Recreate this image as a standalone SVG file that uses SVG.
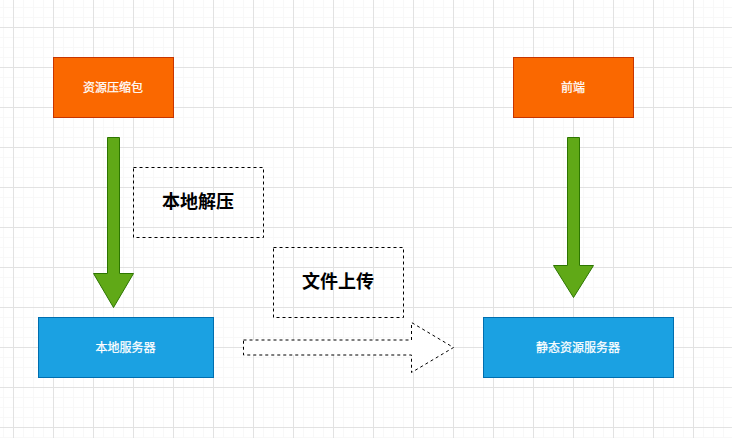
<svg xmlns="http://www.w3.org/2000/svg" width="732" height="438" viewBox="0 0 732 438">
<style>
text{font-family:"Liberation Sans","Noto Sans CJK SC",sans-serif;text-anchor:middle;dominant-baseline:central}
.n{font-size:12px;fill:#fff;stroke:#fff;stroke-width:.25px}
.l{font-size:18px;font-weight:bold;fill:#000}
.o{fill:#fa6800;stroke:#c73500}
.b{fill:#1ba1e2;stroke:#006eaf}
.g{fill:#60a917;stroke:#2d7600}
.d{fill:none;stroke:#000;stroke-dasharray:3 3}
</style>
<defs>
<pattern id="minor" x="3" y="7" width="10" height="10" patternUnits="userSpaceOnUse"><path d="M.5 0V10M0 .5H10" fill="none" stroke="#f8f8f8"/></pattern>
<pattern id="major" x="13" y="27" width="40" height="40" patternUnits="userSpaceOnUse"><path d="M.5 0V40M0 .5H40" fill="none" stroke="#e2e2e2"/></pattern>
</defs>
<rect width="732" height="438" fill="#fff"/>
<rect width="732" height="438" fill="url(#minor)"/>
<rect width="732" height="438" fill="url(#major)"/>
<g id="connectors">
<path class="g" d="M107.5 137.5H119.5V273.5H133.5L113.5 307.5L93.5 273.5H107.5Z"/>
<path class="g" d="M567.5 137.5H579.5V265.5H593.5L573.5 297.5L553.5 265.5H567.5Z"/>
<path d="M243.5 340H411.5V322.5L453.5 347.5L411.5 372.5V355H243.5Z" fill="#fff" stroke="#000" stroke-dasharray="3 3"/>
</g>
<g id="node-pack"><rect class="o" x="53.5" y="57.5" width="120" height="60"/><text class="n" x="113" y="87.5">资源压缩包</text></g>
<g id="node-frontend"><rect class="o" x="513.5" y="57.5" width="120" height="60"/><text class="n" x="573" y="87.5">前端</text></g>
<g id="node-local"><rect class="b" x="38.5" y="317.5" width="175" height="60"/><text class="n" x="125.5" y="347.5">本地服务器</text></g>
<g id="node-static"><rect class="b" x="483.5" y="317.5" width="190" height="60"/><text class="n" x="578" y="347.5">静态资源服务器</text></g>
<g id="label-unzip"><rect class="d" x="133.5" y="167.5" width="130" height="70"/><text class="l" x="198" y="201.5">本地解压</text></g>
<g id="label-upload"><rect class="d" x="273.5" y="247.5" width="130" height="70"/><text class="l" x="338" y="281.5">文件上传</text></g>
</svg>
